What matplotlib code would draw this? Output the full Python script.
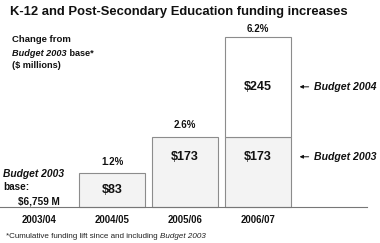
import matplotlib
matplotlib.use("Agg")
import matplotlib.pyplot as plt

years = ["2003/04", "2004/05", "2005/06", "2006/07"]
budget2003 = [0, 83, 173, 173]
budget2004 = [0, 0, 0, 245]
pct_labels = ["", "1.2%", "2.6%", "6.2%"]

plt.rcParams['font.family'] = ['Liberation Sans', 'DejaVu Sans']
W, H = 380, 243
fig = plt.figure(figsize=(W/100, H/100), dpi=100)
ax = fig.add_axes([0, 0, 1, 1])
ax.set_xlim(-39/73, (W-39)/73)
sc = 170/418
ax.set_ylim(-36/sc, (H-36)/sc)
ax.axis('off')
renderer = fig.canvas.get_renderer()

def fx(px):
    return px / W
def fy(py):
    return 1 - py / H

def chain(x, y, parts, **kw):
    """parts: list of (text, style) placed one after another in pixel coords."""
    for s, style in parts:
        t = fig.text(fx(x), fy(y), s, ha='left', va='center', fontstyle=style, **kw)
        bb = t.get_window_extent(renderer)
        x += bb.width

ink = '#111111'
fill = '#f3f3f3'
edge = '#8c8c8c'
xs = list(range(len(years)))
for i in xs:
    if budget2003[i] > 0:
        ax.bar(i, budget2003[i], width=0.904, color=fill, edgecolor=edge, linewidth=0.8)
        ypos = budget2003[i] / 2 if budget2003[i] < 100 else budget2003[i] / 2 + 37
        ax.text(i, ypos, f"${budget2003[i]}", ha='center', va='center',
                fontsize=9, fontweight='bold', color=ink)
    if budget2004[i] > 0:
        ax.bar(i, budget2004[i], bottom=budget2003[i], width=0.904, color='white', edgecolor=edge, linewidth=0.8)
        ax.text(i, budget2003[i] + budget2004[i] / 2, f"${budget2004[i]}", ha='center', va='center',
                fontsize=9, fontweight='bold', color=ink)
    total = budget2003[i] + budget2004[i]
    if pct_labels[i]:
        off = 28 if budget2004[i] == 0 else 20
        ax.text(i, total + off, pct_labels[i], ha='center', va='center', fontsize=7, fontweight='bold', color=ink)
    ax.text(i, -31, years[i], ha='center', va='center', fontsize=6.9, fontweight='bold', color=ink)

ax.axhline(0, xmin=0, xmax=367/W, color='#777777', linewidth=0.8)

# arrows with labels
right = 3 + 0.904 / 2
for yv, lab in [(budget2003[3] + budget2004[3] / 2, "Budget 2004"), (budget2003[3] / 2 + 37, "Budget 2003")]:
    ax.annotate("", xy=(right + 0.08, yv), xytext=(right + 0.28, yv),
                arrowprops=dict(arrowstyle='-|>', color=ink, lw=0.7, mutation_scale=5))
    ax.text(right + 0.315, yv, lab, ha='left', va='center',
            fontsize=7.6, fontweight='bold', fontstyle='italic', color=ink)

fig.text(fx(10), fy(12), "K-12 and Post-Secondary Education funding increases", ha='left', va='center',
         fontsize=9.4, fontweight='bold', color=ink)
fig.text(fx(12), fy(40), "Change from", ha='left', va='center', fontsize=6.8, fontweight='bold', color=ink)
chain(12, 53, [("Budget 2003", 'italic'), (" base*", 'normal')], fontsize=6.6, fontweight='bold', color=ink)
fig.text(fx(12), fy(66), "($ millions)", ha='left', va='center', fontsize=6.6, fontweight='bold', color=ink)

fig.text(fx(3), fy(174), "Budget 2003", ha='left', va='center', fontsize=7.4, fontweight='bold',
         fontstyle='italic', color=ink)
fig.text(fx(3), fy(187), "base:", ha='left', va='center', fontsize=7.2, fontweight='bold', color=ink)
fig.text(fx(18), fy(201), "$6,759 M", ha='left', va='center', fontsize=7.2, fontweight='bold', color=ink)

chain(6, 236, [("*Cumulative funding lift since and including ", 'normal'), ("Budget 2003", 'italic')],
      fontsize=5.8, color='#222222')

fig.savefig("out.png", dpi=100)
